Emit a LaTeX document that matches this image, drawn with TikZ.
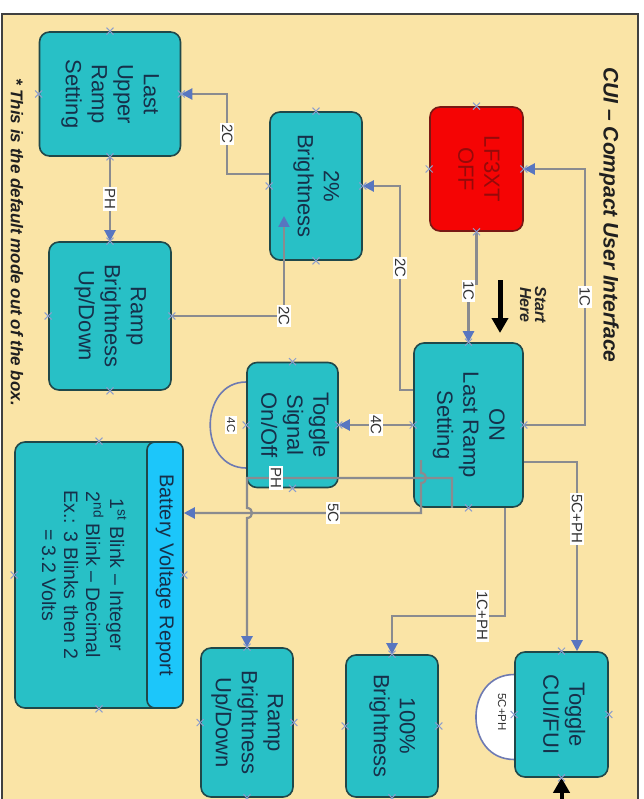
\documentclass[tikz,border=0pt]{standalone}
\usepackage{fontspec}
\setmainfont{Liberation Sans}
\usetikzlibrary{arrows.meta,calc}
\pgfdeclarelayer{bg}
\pgfsetlayers{bg,main}
\definecolor{bgbeige}{RGB}{250,228,166}
\definecolor{boxteal}{RGB}{40,192,198}
\definecolor{boxedge}{RGB}{32,72,74}
\definecolor{boxtext}{RGB}{22,48,74}
\definecolor{offred}{RGB}{245,4,4}
\definecolor{offedge}{RGB}{120,24,20}
\definecolor{offtext}{RGB}{150,10,10}
\definecolor{headblue}{RGB}{28,198,250}
\definecolor{wiregrey}{RGB}{138,139,143}
\definecolor{tipblue}{RGB}{88,118,192}
\definecolor{markgrey}{RGB}{140,158,205}
\definecolor{loopblue}{RGB}{110,122,178}
\newcommand{\vtxt}[1]{\rotatebox{-90}{\begin{tabular}{@{}c@{}}#1\end{tabular}}}
\tikzset{
  box/.style={draw=boxedge, line width=1.6pt, fill=boxteal, rounded corners=10pt,
    inner sep=0pt, text=boxtext, font=\fontsize{22}{26}\selectfont},
  offbox/.style={box, fill=offred, draw=offedge, text=offtext},
  headbox/.style={box, fill=headblue, rounded corners=8pt, font=\fontsize{20}{24}\selectfont},
  wire/.style={draw=wiregrey, line width=2.2pt},
  flow/.style={wire, -{Triangle[length=11pt,width=11pt,color=tipblue]}},
  lbl/.style={fill=white, inner sep=1.5pt, rotate=-90, text=black!80,
    font=\fontsize{15}{15}\selectfont},
  looplbl/.style={lbl, font=\fontsize{11.5}{12}\selectfont},
  loopline/.style={draw=loopblue, line width=1.6pt},
  bigarrow/.style={draw=black, line width=5pt, -{Triangle[length=15pt,width=16pt]}},
  xmk/.style={draw=markgrey, line width=1pt},
  heading/.style={rotate=-90, font=\fontsize{21}{21}\selectfont\bfseries\itshape, text=black!88}
}
\begin{document}
\begin{tikzpicture}[x=1pt,y=-1pt]
  \useasboundingbox (0,0) rectangle (643,799);
  \node[heading] (title) at (609,215) {CUI – Compact User Interface};
  \node[heading, font=\fontsize{17}{17}\selectfont\bfseries\itshape] (note) at (17,242) {* This is the default mode out of the box.};

  % boxes
  \node[box, minimum width=141pt, minimum height=124pt] (lur) at (110,94) {\vtxt{Last\\Upper\\Ramp\\Setting}};
  \node[box, minimum width=92pt, minimum height=148pt] (b2) at (316,186) {\vtxt{2\%\\Brightness}};
  \node[offbox, minimum width=93pt, minimum height=124pt] (off) at (476.5,169) {\vtxt{LF3XT\\OFF}};
  \node[box, minimum width=122pt, minimum height=148pt] (rbu1) at (110,316) {\vtxt{Ramp\\Brightness\\Up/Down}};
  \node[box, minimum width=109pt, minimum height=164pt] (on) at (468.5,425) {\vtxt{ON\\Last Ramp\\Setting}};
  \node[box, minimum width=91pt, minimum height=125pt] (tsig) at (292.5,425) {\vtxt{Toggle\\Signal\\On/Off}};
  \node[box, minimum width=168pt, minimum height=266pt] (batt) at (99,575) {};
  \node[headbox, minimum width=36pt, minimum height=266pt] (bhead) at (165,575) {\rotatebox{-90}{Battery Voltage Report}};
  \node[text=boxtext, font=\fontsize{19.5}{22}\selectfont] (binfo) at (81,575)
    {\vtxt{1\textsuperscript{st} Blink – Integer\\2\textsuperscript{nd} Blink – Decimal\\Ex.: 3 Blinks then 2\\= 3.2 Volts}};
  \node[box, minimum width=92pt, minimum height=149pt] (rbu2) at (247,722.5) {\vtxt{Ramp\\Brightness\\Up/Down}};
  \node[box, minimum width=92pt, minimum height=142pt] (b100) at (392,726) {\vtxt{100\%\\Brightness}};
  \node[box, minimum width=93pt, minimum height=125pt] (tcui) at (561.5,714.5) {\vtxt{Toggle\\CUI/FUI}};

  \begin{pgfonlayer}{bg}
    \draw[fill=bgbeige, draw=black!75, line width=1.3pt] (2,14) rectangle (638,812);
    \draw[loopline] ($(tsig.west)+(0,-43)$) .. controls +(-48,0) and +(-48,0) .. ($(tsig.west)+(0,43)$);
    \draw[loopline, fill=white] ($(tcui.west)+(0,-40)$) .. controls +(-51,0) and +(-51,0) .. ($(tcui.west)+(0,45)$);
  \end{pgfonlayer}

  \coordinate (b2in) at (284,216);
  \coordinate (phturn) at (247,478);
  \coordinate (fivetop) at (421,460);
  \coordinate (fivecorner) at (421,513);
  \coordinate (cuiin) at (561.5,812);
  \coordinate (shtop) at (500,280);
  \coordinate (shtip) at (500,333);

  % connectors
  \draw[flow] (on.east) -- ++(61,0) |- node[lbl,pos=0.25] (c1a) {1C} (off.east);
  \draw[flow] (off.south) -- ++(0,52) -| node[lbl,pos=0.56] (c1b) {1C} (on.north);
  \draw[flow] ([yshift=35pt]on.west) -- ++(-13,0) |- node[lbl,pos=0.3] (c2a) {2C} (b2.east);
  \draw[flow] ([yshift=12pt]b2.west) -- ++(-42,0) |- node[lbl,pos=0.25] (c2b) {2C} (lur.east);
  \draw[flow] (lur.south) -- node[lbl] (cpha) {PH} (rbu1.north);
  \draw[flow] (rbu1.east) -| node[lbl,pos=0.5] (c2c) {2C} (b2in);
  \draw[flow] (on.west) -- node[lbl] (c4a) {4C} (tsig.east);
  \draw[flow] ([xshift=-16.5pt]on.south) |- (phturn) -- ++(0,30)
    .. controls +(6.7,0) and +(6.7,0) .. ++(0,10) -- (rbu2.north);
  \node[lbl] (cphb) at (276,478) {PH};
  \draw[flow] (fivetop) -- ++(0,13) .. controls +(6.7,0) and +(6.7,0) .. ++(0,10)
    -- (fivecorner) -- node[lbl,pos=0.37] (c5) {5C} (batt.east |- fivecorner);
  \draw[flow] ([yshift=-37pt]on.east) -| node[lbl,pos=0.65] (c5ph) {5C+PH} ([xshift=15.5pt]tcui.north);
  \draw[flow] ([xshift=36.5pt]on.south) -- ++(0,108) -| node[lbl,pos=0.1] (c1ph) {1C+PH} (b100.north);
  \node[looplbl] (c4b) at (231,425) {4C};
  \node[looplbl] (c5phb) at (502,712) {5C+PH};

  \draw[bigarrow] (shtop) -- (shtip);
  \draw[bigarrow, line width=4pt] (cuiin) -- (tcui.south);
  \node[rotate=-90, align=center, font=\fontsize{16}{15}\selectfont\bfseries\itshape, text=black!85] (start) at (533,305) {Start\\Here};

  \foreach \b in {lur,b2,off,rbu1,on,tsig,batt,rbu2,b100,tcui}
    \foreach \a in {north,south,east,west}
      \draw[xmk] (\b.\a) +(-3.5,-3.5) -- +(3.5,3.5) +(-3.5,3.5) -- +(3.5,-3.5);
\end{tikzpicture}
\end{document}
